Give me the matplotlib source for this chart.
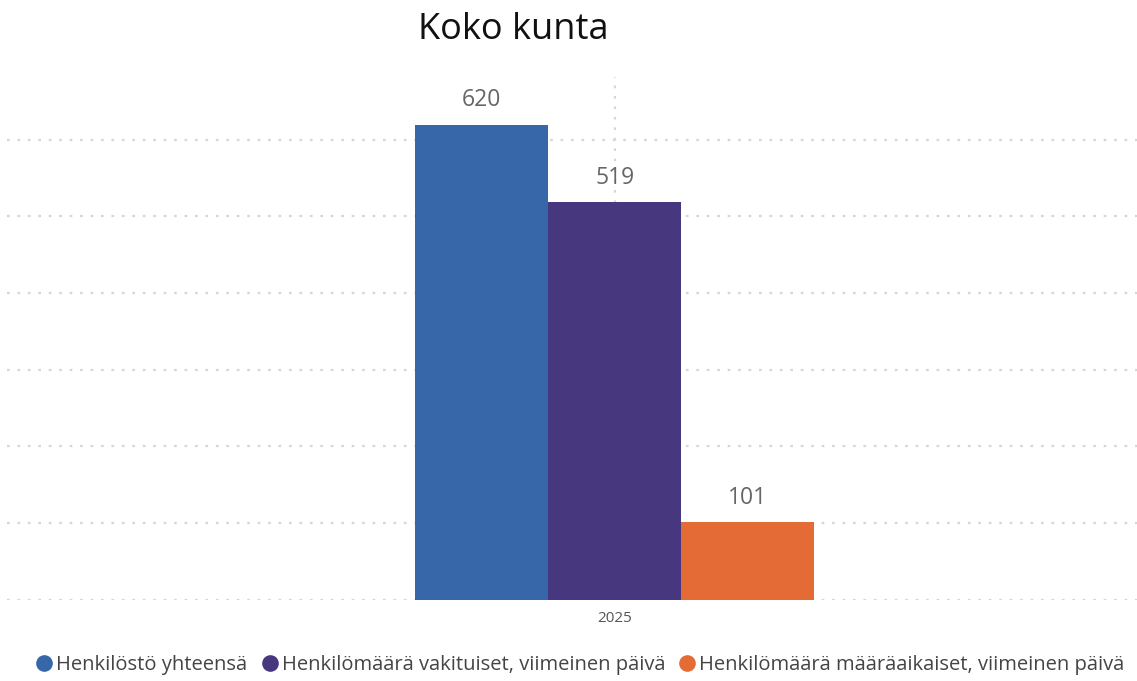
import matplotlib
matplotlib.use("Agg")
import matplotlib.pyplot as plt
from matplotlib.lines import Line2D

title = "Koko kunta"
category = "2025"
series_names = ["Henkilöstö yhteensä",
                "Henkilömäärä vakituiset, viimeinen päivä",
                "Henkilömäärä määräaikaiset, viimeinen päivä"]
values = [620, 519, 101]
colors = ["#3767A9", "#46377F", "#E56B36"]

plt.rcParams['font.family'] = ['Open Sans', 'DejaVu Sans']

fig = plt.figure(figsize=(11.37, 6.81), dpi=100)
ax = fig.add_axes([7/1137, 1 - 599.5/681, 1130/1137, (599.5 - 77)/681])

n = len(values)
w = 1.0
offsets = [(i - (n - 1) / 2) * w for i in range(n)]
for off, v, c in zip(offsets, values, colors):
    ax.bar(off, v, width=w, color=c, edgecolor='none', zorder=3)
    ax.text(off, v + 16, f"{v}", ha='center', va='bottom', fontsize=16.5,
            color='#666666', zorder=4)

total_w = 1130 / 133.0
frac = (614.6 - 7) / 1130
ax.set_xlim(-frac * total_w, (1 - frac) * total_w)
ax.set_ylim(0, 682)
ax.set_yticks(range(0, 700, 100))
ax.set_xticks([0])
ax.set_xticklabels([category], fontsize=11, color='#555555')
ax.tick_params(axis='x', length=0, pad=8)
ax.tick_params(axis='y', length=0, labelleft=False)
ax.grid(True, axis='both', color='#D6D6D6', linestyle=(0, (1.2, 3.5)), linewidth=1.6, zorder=0)
for s in ax.spines.values():
    s.set_visible(False)

fig.text(418/1137, 1 - 30/681, title, ha='left', va='center', fontsize=26, color='#111111')

handles = [Line2D([0], [0], marker='o', linestyle='none', markersize=12,
                  markerfacecolor=c, markeredgecolor='none') for c in colors]
fig.legend(handles, series_names, loc='center left', bbox_to_anchor=(22/1137, 1 - 665/681),
           ncol=3, frameon=False, fontsize=14.5, handletextpad=0.0, columnspacing=0.5,
           labelcolor='#444444', borderpad=0, handlelength=1.2)

fig.savefig("out.png", dpi=100, facecolor='white')
